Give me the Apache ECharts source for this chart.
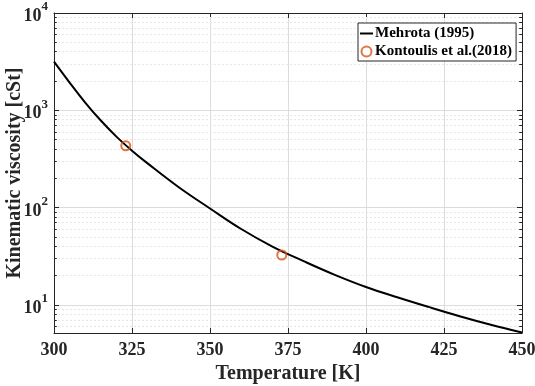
<!DOCTYPE html>
<html>
<head>
<meta charset="utf-8">
<script src="https://cdn.jsdelivr.net/npm/echarts@6/dist/echarts.min.js"></script>
<style>html,body{margin:0;padding:0;background:#fff;}#c{width:535px;height:386px;}</style>
</head>
<body>
<div id="c"></div>
<script>
// Data
var temps = [300, 305, 310, 315, 320, 325, 330, 340, 350, 360, 370, 380, 390, 400, 410, 420, 430, 440, 450];
var mehrota = [3162, 1928, 1202, 785, 537, 385, 285, 162, 98, 60.3, 39.8, 28.2, 20.4, 15.3, 12.0, 9.55, 7.67, 6.27, 5.21];
var expTemps = [323, 373];
var expVisc = [432, 32.6];
var xTicks = [300, 325, 350, 375, 400, 425, 450];
var decades = [1, 10, 100, 1000, 10000];
var seriesNames = ['Mehrota (1995)', 'Kontoulis et al.(2018)'];

var X_MIN = 300, X_MAX = 450, Y_MIN = 5.15, Y_MAX = 10000;
var FONT = 'Liberation Serif';
var AX = '#262626';

var minorVals = [];
decades.forEach(function (d) {
  for (var m = 2; m <= 9; m++) {
    var v = d * m;
    if (v > Y_MIN && v < Y_MAX) minorVals.push(v);
  }
});

var minorGrid = minorVals.map(function (v) {
  return [{coord: [X_MIN, v]}, {coord: [X_MAX, v]}];
});
var minorTicks = [];
minorVals.forEach(function (v) {
  minorTicks.push([{coord: [X_MIN, v]}, {coord: [X_MIN + 0.9, v]}]);
  minorTicks.push([{coord: [X_MAX - 0.9, v]}, {coord: [X_MAX, v]}]);
});

function logLabel(v) {
  var l = Math.log10(v);
  var k = Math.round(l);
  if (Math.abs(l - k) < 1e-6) return '{b|10}{s|' + k + '}';
  return '';
}

var chart = echarts.init(document.getElementById('c'), null, {renderer: 'canvas'});
chart.setOption({
  backgroundColor: '#fff',
  animation: false,
  grid: {left: 54, right: 13, top: 13, bottom: 53, containLabel: false, outerBoundsMode: 'none'},
  legend: {
    type: 'plain',
    show: true,
    orient: 'vertical',
    left: 358, top: 23,
    backgroundColor: '#fff',
    borderColor: AX, borderWidth: 1,
    padding: [3, 4, 2, 2],
    itemGap: 3,
    itemWidth: 13, itemHeight: 10,
    textStyle: {fontFamily: FONT, fontWeight: 'bold', fontSize: 15, color: '#000', padding: [0, 0, 0, -3]},
    data: [
      {name: seriesNames[0], icon: 'path://M0,0L13,0L13,2L0,2Z'},
      {name: seriesNames[1]}
    ]
  },
  xAxis: [{
    type: 'value', min: X_MIN, max: X_MAX, interval: 25,
    name: 'Temperature [K]', nameLocation: 'middle', nameGap: 30,
    nameTextStyle: {fontFamily: FONT, fontWeight: 'bold', fontSize: 20, color: '#262626'},
    axisLine: {show: true, lineStyle: {color: AX, width: 1}},
    axisTick: {show: true, inside: true, length: 5, lineStyle: {color: AX}},
    axisLabel: {fontFamily: FONT, fontWeight: 'bold', fontSize: 18, color: '#262626', margin: 8},
    splitLine: {show: true, lineStyle: {color: '#dcdcdc', width: 1}}
  }, {
    type: 'value', min: X_MIN, max: X_MAX, interval: 25, position: 'top',
    axisLine: {show: true, lineStyle: {color: AX, width: 1}},
    axisTick: {show: true, inside: true, length: 5, lineStyle: {color: AX}},
    axisLabel: {show: false}, splitLine: {show: false}
  }],
  yAxis: [{
    type: 'log', logBase: 10, min: Y_MIN, max: Y_MAX,
    name: 'Kinematic viscosity [cSt]', nameLocation: 'middle', nameGap: 29,
    nameMoveOverlap: false,
    nameTextStyle: {fontFamily: FONT, fontWeight: 'bold', fontSize: 20, color: '#262626'},
    axisLine: {show: true, lineStyle: {color: AX, width: 1}},
    axisTick: {show: true, inside: true, length: 5, lineStyle: {color: AX}},
    axisLabel: {
      formatter: logLabel, margin: 6,
      rich: {
        b: {fontFamily: FONT, fontWeight: 'bold', fontSize: 18, color: '#262626', verticalAlign: 'bottom'},
        s: {fontFamily: FONT, fontWeight: 'bold', fontSize: 13, color: '#262626', verticalAlign: 'top', padding: [0, 0, 12, 0]}
      }
    },
    splitLine: {show: true, lineStyle: {color: '#dcdcdc', width: 1}}
  }, {
    type: 'log', logBase: 10, min: Y_MIN, max: Y_MAX, position: 'right',
    axisLine: {show: true, lineStyle: {color: AX, width: 1}},
    axisTick: {show: true, inside: true, length: 5, lineStyle: {color: AX}},
    axisLabel: {show: false}, splitLine: {show: false}
  }],
  series: [{
    type: 'line', name: 'minor', xAxisIndex: 0, yAxisIndex: 0,
    data: [], silent: true, z: 1,
    markLine: {silent: true, z: 1, symbol: ['none', 'none'], label: {show: false},
      lineStyle: {color: '#e8e8e8', width: 1, type: [2, 2]}, data: minorGrid}
  }, {
    type: 'line', name: 'minorTicks', xAxisIndex: 0, yAxisIndex: 0,
    data: [], silent: true, z: 1,
    markLine: {silent: true, z: 1, symbol: ['none', 'none'], label: {show: false},
      lineStyle: {color: AX, width: 1, type: 'solid'}, data: minorTicks}
  }, {
    type: 'line', name: seriesNames[0], xAxisIndex: 0, yAxisIndex: 0,
    data: temps.map(function (t, i) { return [t, mehrota[i]]; }),
    symbol: 'none', smooth: 0.4,
    lineStyle: {color: '#000', width: 2},
    itemStyle: {color: '#000'}, z: 5
  }, {
    type: 'scatter', name: seriesNames[1], xAxisIndex: 0, yAxisIndex: 0,
    data: expTemps.map(function (t, i) { return [t, expVisc[i]]; }),
    symbol: 'circle', symbolSize: 9,
    legendIcon: 'emptyCircle',
    itemStyle: {color: 'rgba(255,255,255,0)', borderColor: '#D95319', borderWidth: 2}, z: 6
  }]
});
</script>
</body>
</html>
